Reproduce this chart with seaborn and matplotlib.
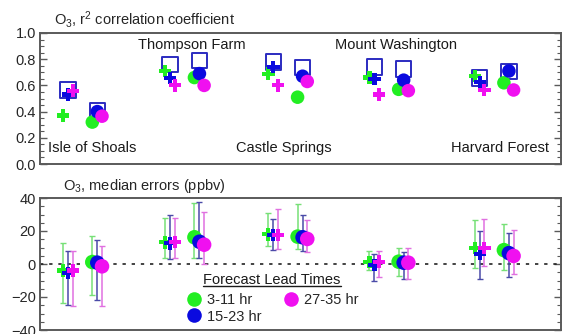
import numpy as np
import pandas as pd
import seaborn as sns
import matplotlib
matplotlib.use("Agg")
import matplotlib.pyplot as plt
from matplotlib.ticker import MultipleLocator
from matplotlib.lines import Line2D

# ---- data -------------------------------------------------------------
sites = ["Isle of Shoals", "Thompson Farm", "Castle Springs",
         "Mount Washington", "Harvard Forest"]
leads = ["3-11 hr", "15-23 hr", "27-35 hr"]

# r^2, one row per site, columns follow `leads`
r2_cross = [[0.37, 0.53, 0.56],
            [0.71, 0.655, 0.60],
            [0.69, 0.74, 0.60],
            [0.66, 0.65, 0.53],
            [0.67, 0.625, 0.565]]
r2_dot = [[0.32, 0.40, 0.365],
          [0.66, 0.69, 0.60],
          [0.51, 0.67, 0.63],
          [0.57, 0.64, 0.56],
          [0.62, 0.71, 0.565]]
# open squares, one per marker group
r2_square_cross = [0.565, 0.76, 0.78, 0.74, 0.655]
r2_square_dot = [0.41, 0.79, 0.735, 0.725, 0.705]

# median errors (ppbv) with lower / upper range
err_cross = [[-3.9, -5.3, -3.9],
             [13.1, 12.5, 13.5],
             [18.0, 17.5, 17.5],
             [1.2, -0.6, 1.4],
             [9.7, 6.0, 9.7]]
err_cross_lo = [[-23.4, -24.8, -25.4],
                [3.9, 2.9, 3.9],
                [11.1, 8.4, 9.0],
                [-3.9, -10.0, -8.0],
                [-2.5, -9.0, -1.5]]
err_cross_hi = [[12.5, 8.0, 8.0],
                [28.1, 29.5, 27.9],
                [31.0, 27.5, 33.6],
                [7.6, 6.0, 8.0],
                [26.5, 20.3, 27.1]]
err_dot = [[1.2, 0.8, -1.4],
           [16.2, 13.5, 11.7],
           [16.6, 16.2, 15.2],
           [1.4, 0.8, 0.8],
           [8.4, 6.6, 4.9]]
err_dot_lo = [[-18.9, -21.7, -25.4],
              [3.9, 3.9, 0.2],
              [9.0, 8.0, 7.0],
              [-7.4, -9.0, -8.8],
              [-3.7, -7.8, -6.3]]
err_dot_hi = [[17.2, 14.8, 11.0],
              [37.1, 37.5, 31.6],
              [36.1, 30.0, 26.5],
              [10.0, 7.4, 9.6],
              [24.4, 18.9, 20.9]]

# ---- layout / style ---------------------------------------------------
group_x = {"cross": [0.27, 1.25, 2.24, 3.21, 4.22],
           "dot": [0.55, 1.53, 2.52, 3.49, 4.50]}
lead_offset = [-0.048, 0.0, 0.045]
palette = {"3-11 hr": "#22ee22", "15-23 hr": "#0a0adf", "27-35 hr": "#f010f0"}
bar_colors = {"3-11 hr": "#77e077", "15-23 hr": "#4a4aa8", "27-35 hr": "#e070e0"}
square_color = "#2b2bc0"
frame_color = "#5a5a5a"

# site name placement: (x, y, horizontal alignment)
label_pos = {"Isle of Shoals": (0.077, 0.12, "left"),
             "Thompson Farm": (1.46, 0.905, "center"),
             "Castle Springs": (2.34, 0.12, "center"),
             "Mount Washington": (3.42, 0.905, "center"),
             "Harvard Forest": (4.41, 0.12, "center")}

rows = []
for g, r2v, ev, lo, hi in [("cross", r2_cross, err_cross, err_cross_lo, err_cross_hi),
                           ("dot", r2_dot, err_dot, err_dot_lo, err_dot_hi)]:
    for i, site in enumerate(sites):
        for j, lead in enumerate(leads):
            rows.append(dict(site=site, group=g, lead=lead,
                             x=group_x[g][i] + lead_offset[j],
                             r2=r2v[i][j], err=ev[i][j],
                             lo=lo[i][j], hi=hi[i][j]))
df = pd.DataFrame(rows)

sq = pd.DataFrame({
    "x": group_x["cross"] + group_x["dot"],
    "r2": r2_square_cross + r2_square_dot,
})

sns.set_theme(style="ticks")
plt.rcParams["font.family"] = ["Liberation Sans", "DejaVu Sans"]
plt.rcParams["mathtext.fontset"] = "custom"
plt.rcParams["mathtext.rm"] = "Liberation Sans"
plt.rcParams["mathtext.it"] = "Liberation Sans:italic"
plt.rcParams["mathtext.bf"] = "Liberation Sans:bold"

fig = plt.figure(figsize=(5.66, 3.34), dpi=100)
ax1 = fig.add_axes([40 / 566, 1 - 164 / 334, 521 / 566, 131 / 334])
ax2 = fig.add_axes([40 / 566, 1 - 330 / 334, 521 / 566, 132 / 334])

marker_map = {"cross": "P", "dot": "o"}


def style_axes(ax):
    ax.set_xlim(0, 5)
    for s in ax.spines.values():
        s.set_color(frame_color)
        s.set_linewidth(1.4)
    ax.tick_params(axis="y", which="both", direction="in", left=True, right=True,
                   color=frame_color, labelsize=10.5, pad=3)
    ax.tick_params(axis="y", which="major", length=5, width=1.0)
    ax.tick_params(axis="y", which="minor", length=3, width=0.8)
    ax.tick_params(axis="x", which="both", bottom=False, labelbottom=False)
    ax.set_xlabel("")
    ax.set_ylabel("")


# ---- top panel: r^2 ---------------------------------------------------
sns.scatterplot(data=sq, x="x", y="r2", marker="s", s=125, facecolor="none",
                edgecolor=square_color, linewidth=1.4, ax=ax1, zorder=2, legend=False)
for lead in leads:
    sns.scatterplot(data=df[df.lead == lead], x="x", y="r2", style="group",
                    markers=marker_map, size="group", sizes={"cross": 80, "dot": 95},
                    color=palette[lead], linewidth=0, ax=ax1, zorder=3, legend=False)
ax1.set_ylim(0, 1.0)
ax1.yaxis.set_major_locator(MultipleLocator(0.2))
ax1.yaxis.set_minor_locator(MultipleLocator(0.05))
ax1.set_yticks(np.arange(0, 1.01, 0.2))
ax1.set_yticklabels([f"{v:.1f}" for v in np.arange(0, 1.01, 0.2)])
style_axes(ax1)

for site in sites:
    xx, yy, ha = label_pos[site]
    ax1.text(xx, yy, site, ha=ha, va="center", fontsize=10.5, color="#1a1a1a")
ax1.text(0.027, 1.02, "O$_3$, r$^2$ correlation coefficient", transform=ax1.transAxes,
         ha="left", va="bottom", fontsize=10.5)

# ---- bottom panel: median errors -------------------------------------
ax2.axhline(0, color="#222222", lw=1.2, ls=(0, (2, 3.5)), zorder=1)
for lead in leads:
    d = df[df.lead == lead]
    ax2.errorbar(d.x, d.err, yerr=[d.err - d.lo, d.hi - d.err], fmt="none",
                 ecolor=bar_colors[lead], elinewidth=1.1, capsize=2.5, capthick=1.0,
                 zorder=2)
for lead in leads:
    sns.scatterplot(data=df[df.lead == lead], x="x", y="err", style="group",
                    markers=marker_map, size="group", sizes={"cross": 80, "dot": 110},
                    color=palette[lead], linewidth=0, ax=ax2, zorder=3, legend=False)
ax2.set_ylim(-40, 40)
ax2.yaxis.set_major_locator(MultipleLocator(20))
ax2.yaxis.set_minor_locator(MultipleLocator(5))
style_axes(ax2)
ax2.text(0.044, 1.02, "O$_3$, median errors (ppbv)", transform=ax2.transAxes,
         ha="left", va="bottom", fontsize=10.5)

handles = [Line2D([], [], marker="o", ls="none", markersize=10.5,
                  markerfacecolor=palette[l], markeredgewidth=0, label=l)
           for l in leads]
leg = ax2.legend(handles=handles, loc="upper left", bbox_to_anchor=(0.265, 0.355),
                 ncol=2, frameon=False, fontsize=10.5, handlelength=0.8,
                 handletextpad=0.5, columnspacing=1.6, labelspacing=0.15,
                 borderpad=0.2)
t = ax2.text(0.445, 0.325, "Forecast Lead Times", transform=ax2.transAxes,
             ha="center", va="bottom", fontsize=10.5, color="#1a1a1a")
fig.canvas.draw()
bb = t.get_window_extent().transformed(ax2.transAxes.inverted())
ax2.plot([bb.x0, bb.x1], [bb.y0 + 0.005, bb.y0 + 0.005], transform=ax2.transAxes,
         color="#1a1a1a", lw=1.0, clip_on=False)

fig.savefig("out.png", dpi=100)
